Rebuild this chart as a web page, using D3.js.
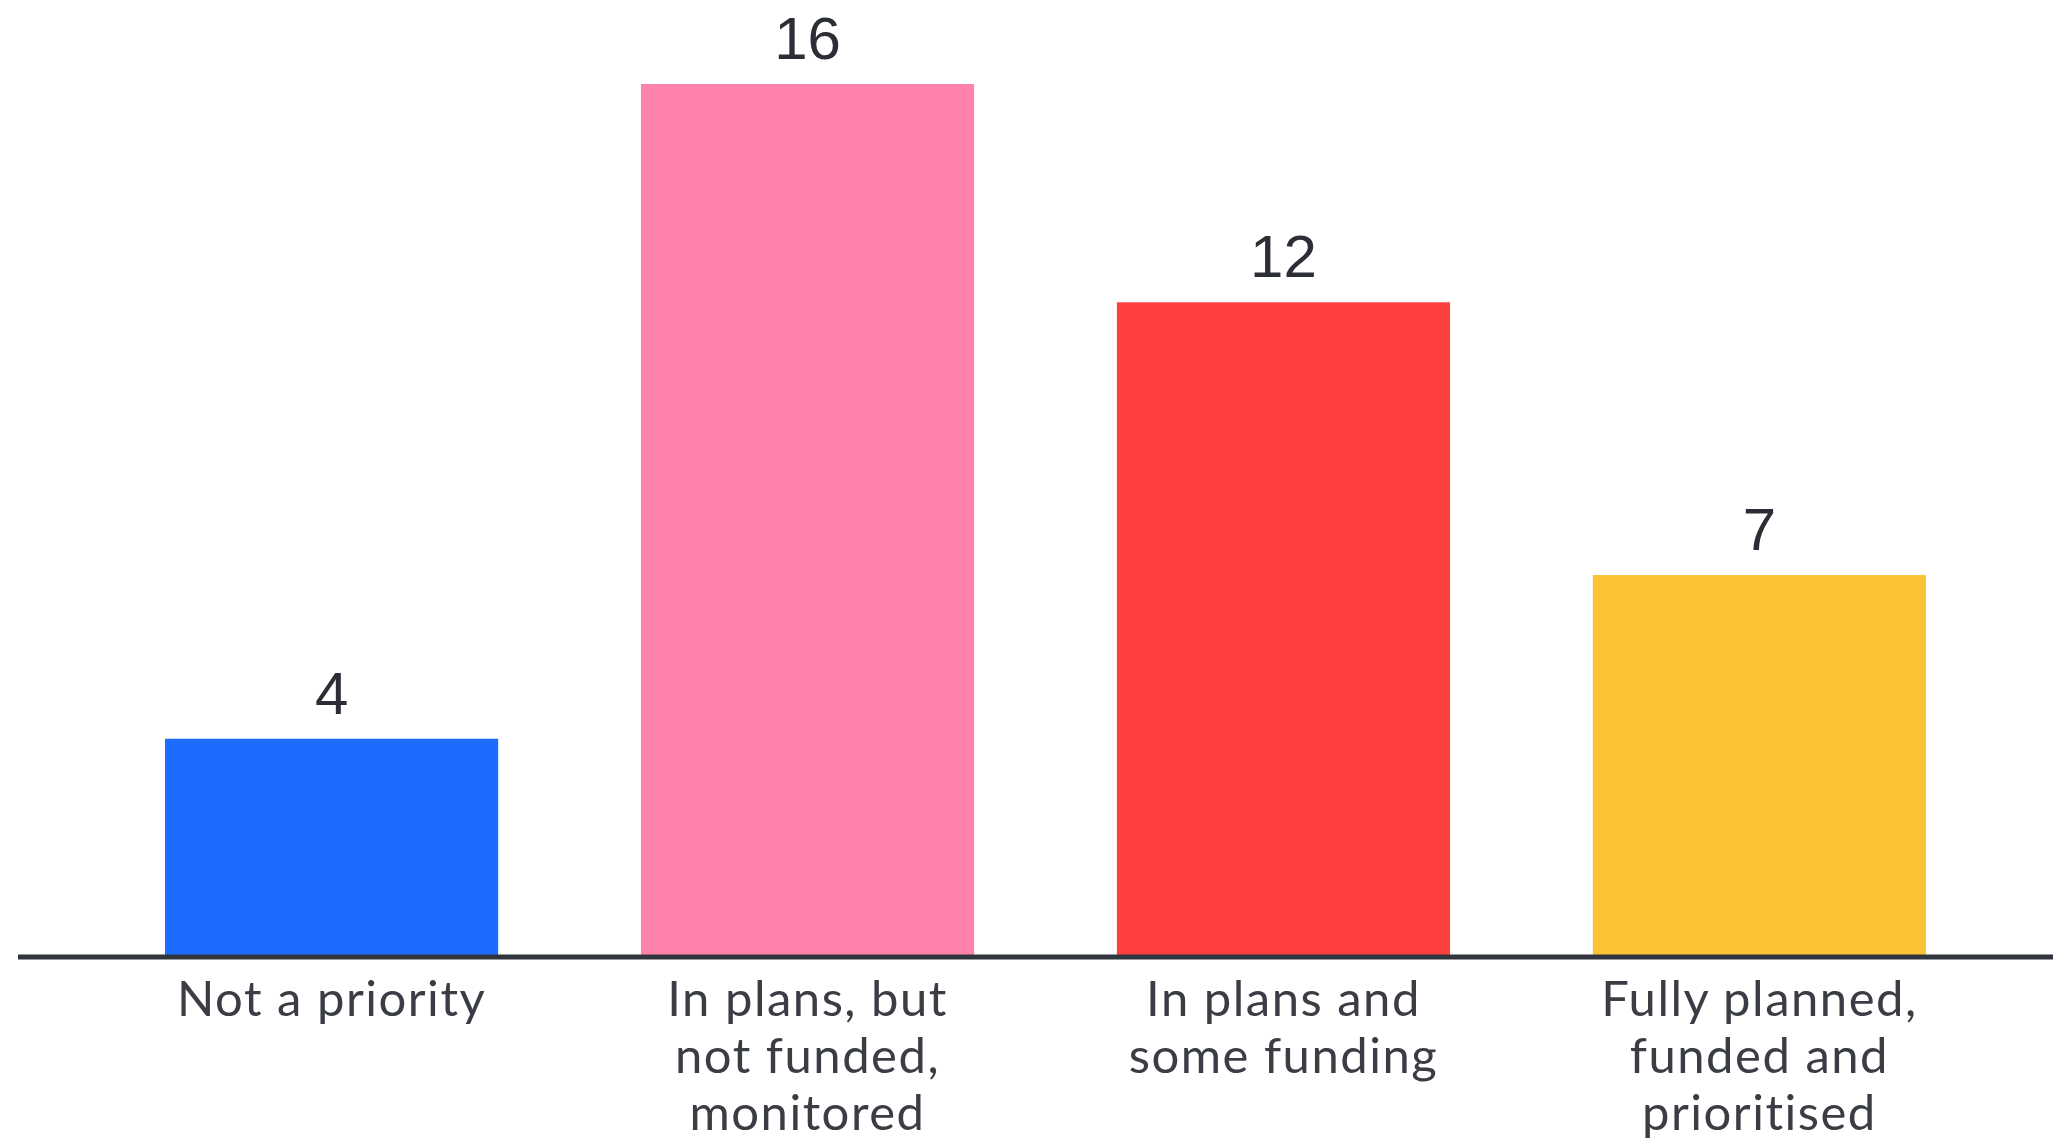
<!DOCTYPE html>
<html>
<head>
<meta charset="utf-8">
<script src="https://cdn.jsdelivr.net/npm/d3@7"></script>
<style>
  body { margin: 0; background: #fff; }
</style>
</head>
<body>
<script>
var categories = ["Not a priority", "In plans, but not funded, monitored", "In plans and some funding", "Fully planned, funded and prioritised"];
var labelLines = [["Not a priority"], ["In plans, but", "not funded,", "monitored"], ["In plans and", "some funding"], ["Fully planned,", "funded and", "prioritised"]];
var values = [4, 16, 12, 7];
var colors = ["#1d6bff", "#ff82ab", "#ff4040", "#fcc337"];

var width = 2053, height = 1141;

var svg = d3.select("body").append("svg")
  .attr("width", width)
  .attr("height", height);

var x = d3.scaleBand()
  .domain(categories)
  .range([165, 1926])
  .paddingInner(0.3)
  .paddingOuter(0);

var y = d3.scaleLinear()
  .domain([0, 16])
  .range([957, 84]);

// bars
svg.selectAll("rect.bar")
  .data(values)
  .enter().append("rect")
  .attr("class", "bar")
  .attr("x", function(d, i) { return x(categories[i]); })
  .attr("y", function(d) { return y(d); })
  .attr("width", x.bandwidth())
  .attr("height", function(d) { return y(0) - y(d); })
  .attr("fill", function(d, i) { return colors[i]; });

// value labels
svg.selectAll("text.value")
  .data(values)
  .enter().append("text")
  .attr("class", "value")
  .attr("x", function(d, i) { return x(categories[i]) + x.bandwidth() / 2; })
  .attr("y", function(d) { return y(d) - 25; })
  .attr("text-anchor", "middle")
  .style("font-family", "'Liberation Sans', Arial, sans-serif")
  .style("font-size", "60px")
  .style("fill", "#2b2e35")
  .text(function(d) { return d; });

// baseline
svg.append("line")
  .attr("x1", 18)
  .attr("x2", width)
  .attr("y1", y(0))
  .attr("y2", y(0))
  .attr("stroke", "#30353d")
  .attr("stroke-width", 5);

// category labels
var lbl = svg.selectAll("text.cat")
  .data(categories)
  .enter().append("text")
  .attr("class", "cat")
  .attr("text-anchor", "middle")
  .style("font-family", "Lato, sans-serif")
  .style("font-size", "49px")
  .style("letter-spacing", "1.5px")
  .style("fill", "#3a3d44");

lbl.each(function(d, i) {
  var t = d3.select(this);
  labelLines[i].forEach(function(line, j) {
    t.append("tspan")
      .attr("x", x(d) + x.bandwidth() / 2)
      .attr("y", 1016 + j * 57)
      .text(line);
  });
});
</script>
</body>
</html>
